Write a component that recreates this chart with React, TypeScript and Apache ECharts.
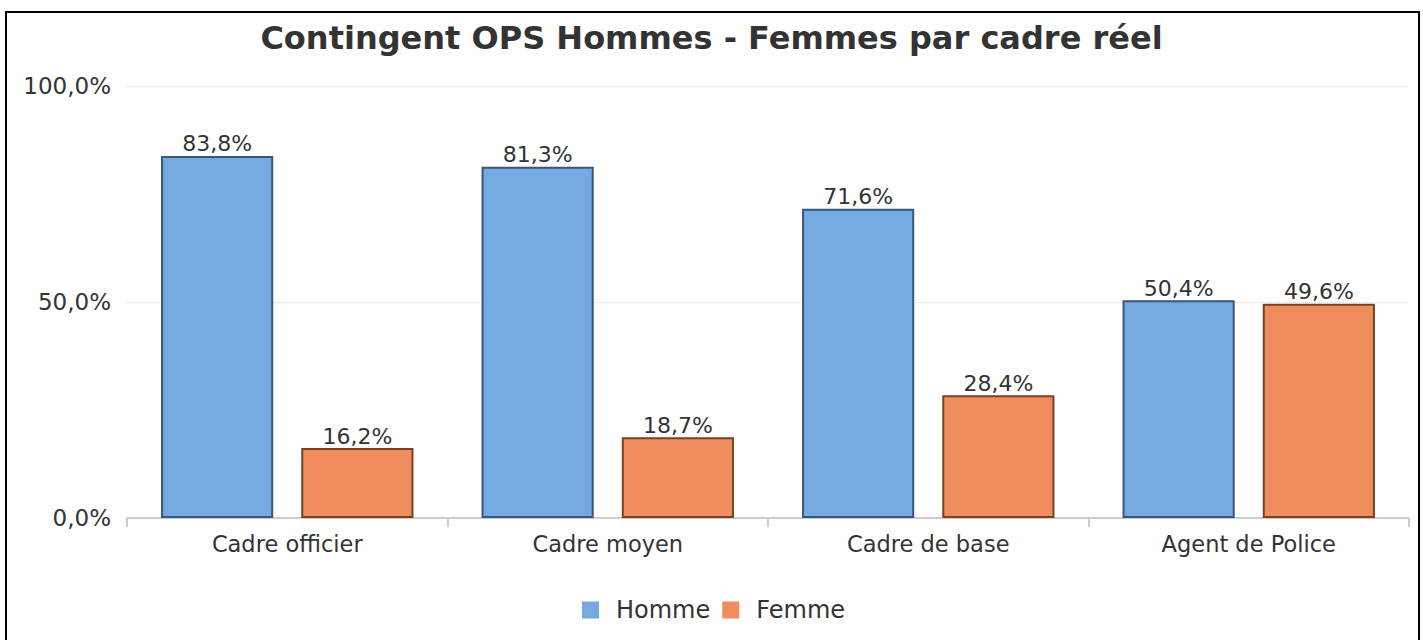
import React, { useEffect, useRef } from "react";
import * as echarts from "echarts";

const categories = ["Cadre officier", "Cadre moyen", "Cadre de base", "Agent de Police"];
const hommeValues = [83.8, 81.3, 71.6, 50.4];
const femmeValues = [16.2, 18.7, 28.4, 49.6];
const seriesNames = ["Homme", "Femme"];
const titleText = "Contingent OPS Hommes - Femmes par cadre réel";

const fmt = (v: number) => v.toFixed(1).replace(".", ",") + "%";

export default function App() {
  const ref = useRef<HTMLDivElement>(null);
  useEffect(() => {
    if (!ref.current) return;
    const chart = echarts.init(ref.current, null, { renderer: "svg" });
    const font = "DejaVu Sans";
    const labelCfg = {
      show: true,
      position: "top" as const,
      distance: 1,
      color: "#333",
      fontSize: 22,
      fontFamily: font,
      formatter: (p: any) => fmt(p.value),
    };
    chart.setOption({
      animation: false,
      backgroundColor: "#fff",
      textStyle: { fontFamily: font },
      title: {
        text: titleText,
        left: "center",
        top: 17,
        textStyle: { fontSize: 32, fontWeight: "bold", color: "#333", fontFamily: font },
      },
      legend: {
        data: seriesNames,
        bottom: 13,
        left: 577,
        icon: "rect",
        itemWidth: 17,
        itemHeight: 17,
        itemGap: 12,
        itemStyle: { borderWidth: 0 },
        textStyle: { fontSize: 24, color: "#333", fontFamily: font, padding: [0, 0, 0, 12] },
      },
      grid: { left: 127, right: 14, top: 86, bottom: 122, containLabel: false },
      xAxis: {
        type: "category",
        data: categories,
        axisLine: { lineStyle: { color: "#ccc", width: 2 } },
        axisTick: { show: true, length: 9, lineStyle: { color: "#ccc", width: 2 } },
        axisLabel: { fontSize: 22.5, color: "#333", fontFamily: font, margin: 14 },
      },
      yAxis: {
        type: "value",
        min: 0,
        max: 100,
        interval: 50,
        axisLine: { show: false },
        axisTick: { show: false },
        axisLabel: { fontSize: 23, color: "#333", fontFamily: font, margin: 16, formatter: (v: number) => fmt(v) },
        splitLine: { show: true, lineStyle: { color: "#ddd", type: "dotted", width: 1 } },
      },
      series: [
        {
          name: seriesNames[0],
          type: "bar",
          data: hommeValues,
          barWidth: "35%",
          barGap: "25%",
          itemStyle: { color: "#75a9e1", borderColor: "#3b5677", borderWidth: 2 },
          label: labelCfg,
        },
        {
          name: seriesNames[1],
          type: "bar",
          data: femmeValues,
          barWidth: "35%",
          itemStyle: { color: "#ef8d5e", borderColor: "#7a4026", borderWidth: 2 },
          label: labelCfg,
        },
      ],
      graphic: [
        {
          type: "rect",
          shape: { x: 6, y: 12, width: 1413, height: 700 },
          style: { fill: "none", stroke: "#000", lineWidth: 2 },
          silent: true,
        },
      ],
    });
    return () => chart.dispose();
  }, []);
  return (
    <div
      ref={ref}
      style={{ position: "absolute", left: 0, top: 0, width: 1423, height: 640 }}
    />
  );
}
